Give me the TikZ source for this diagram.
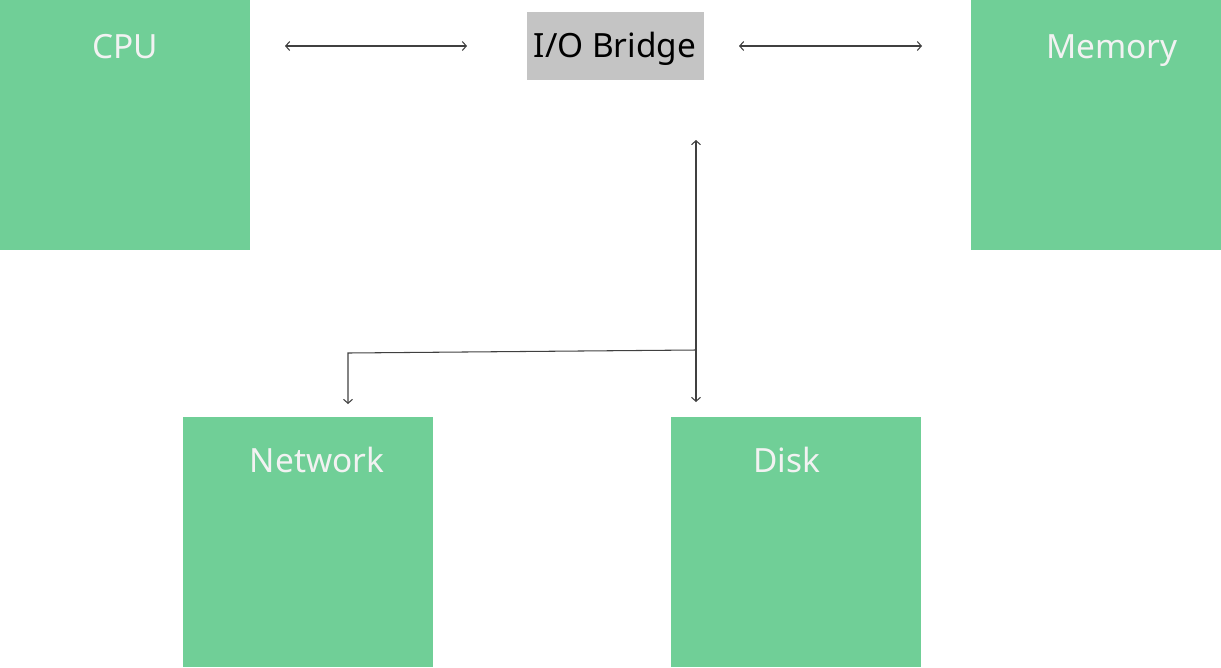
\documentclass[tikz,border=0pt]{standalone}
\usepackage{fontspec}
\setmainfont{Noto Sans}
\usetikzlibrary{arrows.meta}
\definecolor{boxgreen}{HTML}{70CF97}
\definecolor{bridgegray}{HTML}{C4C4C4}
\definecolor{labelwhite}{HTML}{F2F2F2}
\tikzset{
  unitbox/.style={fill=boxgreen, draw=none, minimum width=5cm, minimum height=5cm, anchor=north west, inner sep=0pt},
  unitname/.style={text=labelwhite, font=\fontsize{19}{23}\selectfont, inner sep=0pt, anchor=base},
  bus/.style={draw=black!75, line width=0.6pt},
  bustip/.style={-{Straight Barb[length=0.8mm, width=1.8mm]}},
  busboth/.style={{Straight Barb[length=0.8mm, width=1.8mm]}-{Straight Barb[length=0.8mm, width=1.8mm]}}
}

\begin{document}
\begin{tikzpicture}[x=0.02cm, y=-0.02cm]
			%%%%% START %%%%%
			\useasboundingbox (0, 0) rectangle (1221, 667);

			\node[unitbox] (cpu) at (0, 0) {};
			\node[unitname] (cpuname) at (125, 58) {CPU};

			\node[unitbox] (memory) at (971, 0) {};
			\node[unitname] (memoryname) at (1112, 58) {Memory};

			\node[unitbox] (network) at (183, 417) {};
			\node[unitname] (networkname) at (317, 472) {Network};

			\node[unitbox] (disk) at (671, 417) {};
			\node[unitname] (diskname) at (787, 472) {Disk};

			\node[fill=bridgegray, minimum width=3.54cm, minimum height=1.36cm, inner sep=0pt] (bridge) at (615.5, 46) {};
			\node[font=\fontsize{19}{23}\selectfont, inner sep=0pt, anchor=base] (bridgename) at (615, 57) {I/O Bridge};

			\coordinate (cpuL) at (285, 46);
			\coordinate (cpuR) at (467, 46);
			\coordinate (memL) at (739, 46);
			\coordinate (memR) at (922, 46);
			\coordinate (ioTop) at (696, 140);
			\coordinate (ioJoin) at (696, 350);
			\coordinate (ioBot) at (696, 402);
			\coordinate (netTurn) at (348, 353);
			\coordinate (netBot) at (348, 404);

			\draw[bus, busboth] (cpuL) -- (cpuR);
			\draw[bus, busboth] (memL) -- (memR);
			\draw[bus, busboth] (ioTop) -- (ioBot);
			\draw[bus, bustip] (ioJoin) -- (netTurn) -- (netBot);

			%%%%% END %%%%%
\end{tikzpicture}
\end{document}
